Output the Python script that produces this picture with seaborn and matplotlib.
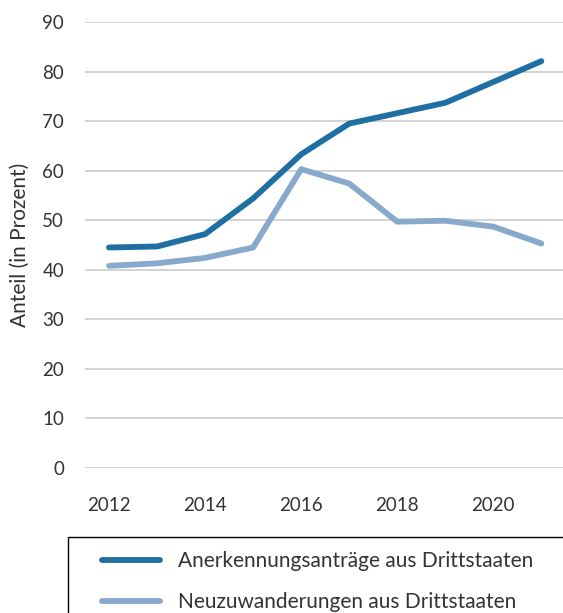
import pandas as pd
import numpy as np
import matplotlib.pyplot as plt
import seaborn as sns
from matplotlib.patches import Rectangle

# Werte
jahre = [2012, 2013, 2014, 2015, 2016, 2017, 2018, 2019, 2020, 2021]
anerkennung = [44.5, 44.7, 47.2, 54.4, 63.3, 69.5, 71.6, 73.7, 77.9, 82.1]
neuzuwanderung = [40.8, 41.3, 42.4, 44.5, 60.3, 57.4, 49.7, 49.9, 48.7, 45.3]
serien = ["Anerkennungsanträge aus Drittstaaten", "Neuzuwanderungen aus Drittstaaten"]
x_ticks = [2012, 2014, 2016, 2018, 2020]
y_ticks = [0, 10, 20, 30, 40, 50, 60, 70, 80, 90]

df = pd.DataFrame({
    "Jahr": jahre * 2,
    "Anteil": anerkennung + neuzuwanderung,
    "Serie": [serien[0]] * len(jahre) + [serien[1]] * len(jahre),
})

sns.set_theme(style="white")
plt.rcParams['font.family'] = ['Lato', 'DejaVu Sans']

fig = plt.figure(figsize=(5.63, 6.13), dpi=100)
W, H = 563, 613
ax = fig.add_axes([85 / W, 1 - 468 / H, (563 - 85) / W, (468 - 22) / H])

palette = {serien[0]: "#1F6FA3", serien[1]: "#87AACC"}
sns.lineplot(data=df, x="Jahr", y="Anteil", hue="Serie", palette=palette,
             linewidth=4.2, ax=ax, legend=False, solid_capstyle="round",
             solid_joinstyle="round")

ax.set_xlim(2011.5, 2021.45)
ax.set_ylim(0, 90)
ax.set_xticks(x_ticks)
ax.set_yticks(y_ticks)
ax.tick_params(axis="both", length=0, labelsize=13.5, colors="#333333")
ax.tick_params(axis="y", pad=15)
ax.tick_params(axis="x", pad=21)
ax.grid(axis="y", color="#D0D0D0", linewidth=1.3)
ax.set_axisbelow(True)
for s in ax.spines.values():
    s.set_visible(False)
ax.set_xlabel("")
ax.set_ylabel("Anteil (in Prozent)", fontsize=15, color="#333333")
ax.yaxis.set_label_coords((30 - 85) / 478, 0.5)

# Legendenrahmen
fig.patches.append(Rectangle((68 / W, -0.01), (W - 68) / W + 0.01, 1 - 537 / H + 0.01,
                             transform=fig.transFigure, fill=False,
                             edgecolor="black", linewidth=1.0))
handles = [plt.Line2D([], [], color=palette[s], linewidth=4.2, solid_capstyle="round")
           for s in serien]
fig.legend(handles, serien, loc="upper left", bbox_to_anchor=(102 / W, 1 - 551 / H),
           frameon=False, fontsize=15, handlelength=2.8, handletextpad=0.85,
           labelspacing=1.0, borderaxespad=0, borderpad=0, labelcolor="#333333")

fig.savefig("out.png", dpi=100)
